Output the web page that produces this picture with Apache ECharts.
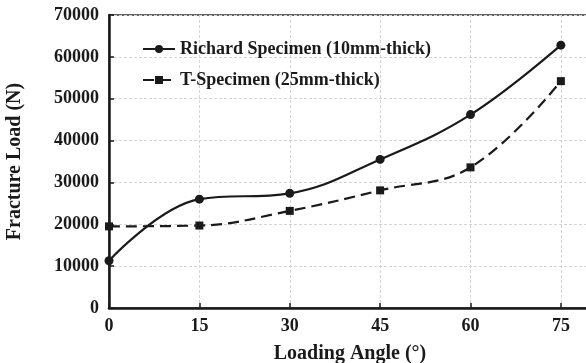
<!DOCTYPE html>
<html>
<head>
<meta charset="utf-8">
<script src="https://cdn.jsdelivr.net/npm/echarts@6/dist/echarts.min.js"></script>
<style>
  html, body { margin: 0; padding: 0; background: #fff; }
  #chart { width: 586px; height: 363px; }
</style>
</head>
<body>
<div id="chart"></div>
<script>
// loading angles (deg)
const angles = [0, 15, 30, 45, 60, 75]
// fracture load (N)
const richardLoad = [11300, 26000, 27400, 35500, 46200, 62800]
const tSpecLoad = [19500, 19700, 23200, 28100, 33600, 54200]
const yTicks = [0, 10000, 20000, 30000, 40000, 50000, 60000, 70000]

const font = 'Liberation Serif'
const ink = '#1a1a1a'

const chart = echarts.init(document.getElementById('chart'))

const option = {
  animation: false,
  textStyle: { fontFamily: font, color: ink },
  grid: {
    left: 109,
    top: 15,
    right: -5,
    bottom: 55,
    outerBoundsMode: 'none',
    show: true,
    borderColor: '#333',
    borderWidth: 1.5
  },
  legend: {
    left: 142,
    top: 40,
    padding: 0,
    orient: 'vertical',
    itemWidth: 32,
    itemHeight: 10,
    itemGap: 13,
    textStyle: { fontFamily: font, fontWeight: 'bold', fontSize: 18, color: ink },
    data: ['Richard Specimen (10mm-thick)', 'T-Specimen (25mm-thick)']
  },
  xAxis: {
    type: 'value',
    min: 0,
    max: 80,
    interval: 15,
    name: 'Loading Angle (°)',
    nameLocation: 'middle',
    nameGap: 36,
    nameTextStyle: { fontFamily: font, fontWeight: 'bold', fontSize: 20, color: ink },
    axisLine: { show: true, lineStyle: { color: ink, width: 2.5 } },
    axisTick: { show: true, inside: true, length: 5, lineStyle: { color: ink, width: 1.5 } },
    axisLabel: {
      fontFamily: font, fontWeight: 'bold', fontSize: 18, color: ink, margin: 9,
      formatter: v => (v % 15 === 0 ? String(v) : '')
    },
    splitLine: { show: true, lineStyle: { color: '#d4d4d4', type: [3, 2], width: 1 } }
  },
  yAxis: {
    type: 'value',
    min: yTicks[0],
    max: yTicks[yTicks.length - 1],
    interval: 10000,
    name: 'Fracture Load (N)',
    nameLocation: 'middle',
    nameGap: 84,
    nameTextStyle: { fontFamily: font, fontWeight: 'bold', fontSize: 20, color: ink },
    axisLine: { show: true, lineStyle: { color: ink, width: 2.5 } },
    axisTick: { show: true, inside: true, length: 5, lineStyle: { color: ink, width: 1.5 } },
    axisLabel: {
      fontFamily: font, fontWeight: 'bold', fontSize: 18, color: ink, margin: 10,
      formatter: v => String(v)
    },
    splitLine: { show: true, lineStyle: { color: '#d4d4d4', type: [3, 2], width: 1 } }
  },
  series: [
    {
      name: 'Richard Specimen (10mm-thick)',
      type: 'line',
      smooth: 0.4,
      data: angles.map((a, i) => [a, richardLoad[i]]),
      symbol: 'circle',
      symbolSize: 9,
      itemStyle: { color: ink },
      lineStyle: { color: ink, width: 2.2 }
    },
    {
      name: 'T-Specimen (25mm-thick)',
      type: 'line',
      smooth: 0.4,
      data: angles.map((a, i) => [a, tSpecLoad[i]]),
      symbol: 'rect',
      symbolSize: 8,
      itemStyle: { color: ink },
      lineStyle: { color: ink, width: 2.2, type: [11, 6] }
    }
  ]
}

chart.setOption(option)
</script>
</body>
</html>
